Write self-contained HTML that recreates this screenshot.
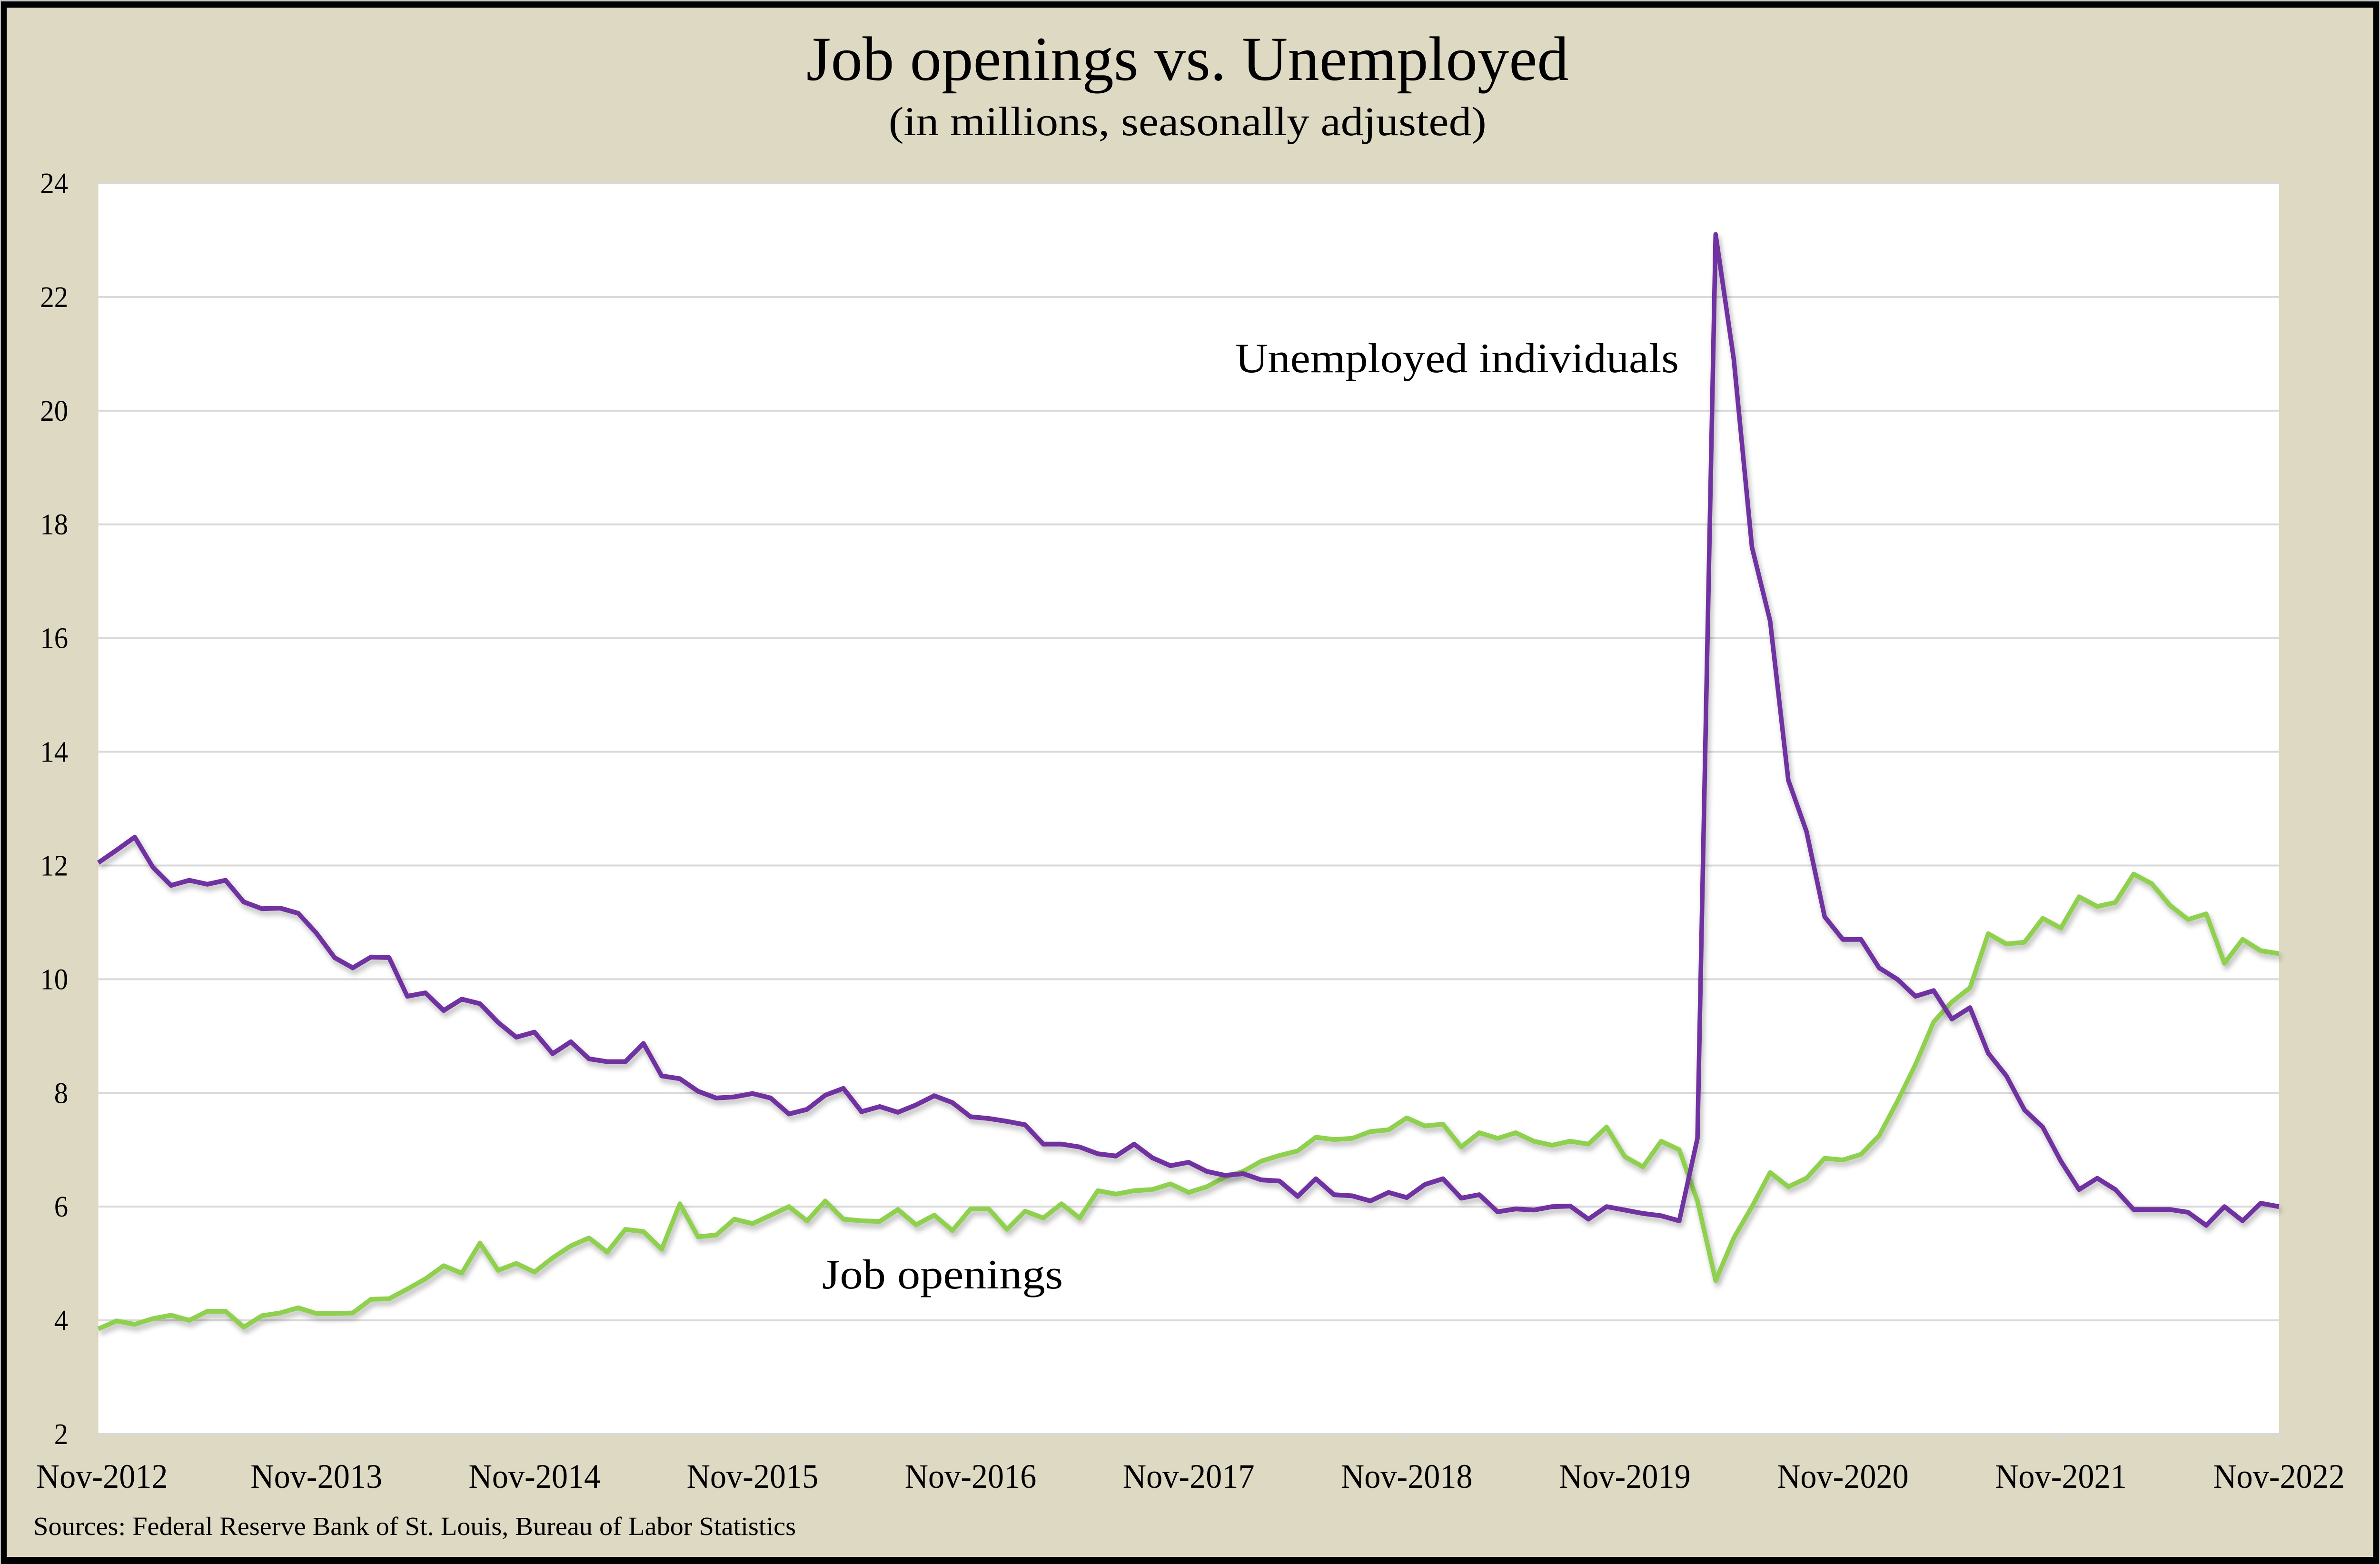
<!DOCTYPE html>
<html><head><meta charset="utf-8"><style>
html,body{margin:0;padding:0;background:#fff;width:100%;height:100%;overflow:hidden;}
svg{display:block;position:absolute;left:0;top:0;width:100vw;height:100vh;}
text{font-family:"Liberation Serif",serif;fill:#000;}
</style></head><body>
<svg id="s" viewBox="0 0 5275 3286" preserveAspectRatio="none" xmlns="http://www.w3.org/2000/svg">
<defs><filter id="sh" x="-5%" y="-5%" width="110%" height="110%"><feGaussianBlur in="SourceAlpha" stdDeviation="6"/><feOffset dx="4" dy="8"/><feComponentTransfer><feFuncA type="linear" slope="0.3"/></feComponentTransfer><feMerge><feMergeNode/><feMergeNode in="SourceGraphic"/></feMerge></filter></defs>
<rect x="0" y="0" width="5275" height="3286" fill="#c8c8c8"/>
<rect x="2" y="3" width="5271" height="3283" fill="#000"/>
<rect x="15" y="16" width="5245" height="3255" fill="#ded9c3"/>
<rect x="218" y="385" width="4833" height="2628" fill="#fff"/>
<g id="grid" stroke="#d9d9d9" stroke-width="4"></g>
<g id="ylab" font-size="62" text-anchor="end"></g>
<g id="xlab" font-size="72" text-anchor="middle"></g>
<text x="2632" y="168" font-size="132" text-anchor="middle" textLength="1690" lengthAdjust="spacingAndGlyphs">Job openings vs. Unemployed</text>
<text x="2632" y="284" font-size="86" text-anchor="middle" textLength="1325" lengthAdjust="spacingAndGlyphs">(in millions, seasonally adjusted)</text>
<text x="2738" y="782" font-size="88" textLength="983" lengthAdjust="spacingAndGlyphs">Unemployed individuals</text>
<text x="1822" y="2707" font-size="88" textLength="534" lengthAdjust="spacingAndGlyphs">Job openings</text>
<text x="74" y="3225" font-size="55" textLength="1690" lengthAdjust="spacingAndGlyphs">Sources: Federal Reserve Bank of St. Louis, Bureau of Labor Statistics</text>
<polyline id="g" fill="none" stroke="#8fd050" stroke-width="10" stroke-linejoin="round" filter="url(#sh)"/>
<polyline id="p" fill="none" stroke="#7030a0" stroke-width="10" stroke-linejoin="round" filter="url(#sh)"/>
</svg>
<script>
var U=[12.05,12.27,12.5,11.97,11.65,11.74,11.67,11.74,11.36,11.24,11.25,11.16,10.81,10.38,
10.2,10.39,10.38,9.7,9.76,9.45,9.65,9.57,9.24,8.98,9.07,8.69,
8.9,8.6,8.55,8.55,8.87,8.3,8.25,8.03,7.91,7.93,7.99,7.91,
7.63,7.71,7.96,8.08,7.67,7.76,7.66,7.79,7.95,7.83,7.58,7.55,
7.5,7.44,7.1,7.1,7.05,6.93,6.89,7.1,6.86,6.72,6.78,6.62,
6.55,6.58,6.47,6.45,6.18,6.49,6.21,6.19,6.1,6.25,6.16,6.39,
6.49,6.15,6.21,5.91,5.96,5.94,6.0,6.01,5.78,6.0,5.94,5.88,
5.84,5.75,7.2,23.1,20.9,17.6,16.3,13.5,12.6,11.1,10.7,10.7,
10.2,10.0,9.7,9.8,9.3,9.5,8.7,8.3,7.7,7.4,6.8,6.3,
6.5,6.3,5.95,5.95,5.95,5.9,5.67,6.0,5.75,6.06,6.0];
var J=[3.85,3.99,3.93,4.03,4.09,4.0,4.16,4.16,3.88,4.08,4.13,4.22,4.12,4.12,
4.13,4.37,4.38,4.55,4.73,4.96,4.83,5.36,4.88,5.0,4.85,5.1,
5.31,5.45,5.2,5.6,5.56,5.25,6.05,5.47,5.5,5.78,5.7,5.85,
6.0,5.75,6.1,5.78,5.75,5.74,5.95,5.68,5.85,5.58,5.96,5.96,
5.6,5.92,5.8,6.05,5.8,6.28,6.22,6.28,6.3,6.4,6.25,6.35,
6.52,6.62,6.8,6.9,6.98,7.22,7.18,7.2,7.32,7.35,7.56,7.42,
7.45,7.05,7.3,7.2,7.3,7.15,7.08,7.15,7.1,7.4,6.88,6.7,
7.15,7.0,6.1,4.7,5.45,6.0,6.6,6.35,6.5,6.85,6.82,6.92,
7.25,7.85,8.5,9.25,9.6,9.85,10.8,10.62,10.65,11.07,10.9,11.45,
11.28,11.35,11.85,11.68,11.3,11.05,11.15,10.28,10.7,10.5,10.45];
function X(i){return 218+i*4833/120;}
function Y(v){return 3013-(v-2)*2628/22;}
function pts(a){return a.map(function(v,i){return X(i).toFixed(1)+","+Y(v).toFixed(1);}).join(" ");}
document.getElementById("p").setAttribute("points",pts(U));
document.getElementById("g").setAttribute("points",pts(J));
var ns="http://www.w3.org/2000/svg",gr=document.getElementById("grid"),yl=document.getElementById("ylab"),xl=document.getElementById("xlab");
for(var v=2;v<=24;v+=2){var l=document.createElementNS(ns,"line");l.setAttribute("x1",218);l.setAttribute("x2",5051);l.setAttribute("y1",Y(v));l.setAttribute("y2",Y(v));gr.appendChild(l);
var t=document.createElementNS(ns,"text");t.setAttribute("x",151);t.setAttribute("y",Y(v)+21);t.textContent=v;yl.appendChild(t);}
for(var k=0;k<=10;k++){var x=X(k*12);var l2=document.createElementNS(ns,"line");l2.setAttribute("x1",x);l2.setAttribute("x2",x);l2.setAttribute("y1",3013);l2.setAttribute("y2",3035);gr.appendChild(l2);
var t2=document.createElementNS(ns,"text");t2.setAttribute("x",k==0?226:x);t2.setAttribute("y",3126);t2.textContent="Nov-"+(2012+k);xl.appendChild(t2);}
</script>
</body></html>
